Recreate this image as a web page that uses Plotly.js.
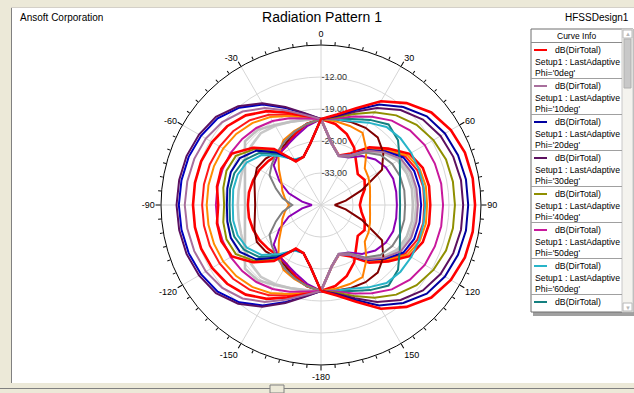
<!DOCTYPE html>
<html><head><meta charset="utf-8">
<script src="https://cdn.plot.ly/plotly-3.0.1.min.js"></script>
<style>html,body{margin:0;padding:0;background:#fff;overflow:hidden}#chart{width:634px;height:393px}</style>
</head><body><div id="chart"></div>
<script>
// ---- data ----
const theta = [-180,-170,-160,-150,-140,-130,-120,-110,-100,-90,-80,-70,-60,-50,-40,-30,-20,-10,0,10,20,30,40,50,60,70,80,90,100,110,120,130,140,150,160,170,180];
const phiNames = ["Phi='0deg'","Phi='10deg'","Phi='20deg'","Phi='30deg'","Phi='40deg'","Phi='50deg'","Phi='60deg'","Phi='70deg'","Phi='80deg'","Phi='90deg'","Phi='100deg'","Phi='110deg'","Phi='120deg'","Phi='130deg'","Phi='140deg'","Phi='150deg'","Phi='160deg'","Phi='170deg'","Phi='180deg'"];
const curveColors = ['#ff0000','#a86e9c','#0000a0','#5c1060','#8f8f00','#c8189c','#28b4c8','#148080','#808080','#ff8000','#800000','#c0c0c0','#8c00b4','#ff0000','#0000c0','#ff0000','#c8c8c8','#ff8c00','#ff1a1a'];
const quantity = 'dB(DirTotal)';
const solution = 'Setup1 : LastAdaptive';

const phi0   = [-21.2,-26.4,-28.8,-29.0,-24.0,-20.5,-17.5,-16.8,-16.9,-17.5,-16.9,-16.8,-17.5,-20.5,-24.0,-29.0,-28.8,-26.4,-21.2,-19.9,-17.5,-13.8,-10.9,-8.5,-7.2,-6.5,-6.3,-6.3,-6.3,-6.5,-7.2,-8.5,-10.9,-13.8,-17.5,-19.9,-21.2];
const phi10  = [-21.2,-20.0,-18.0,-15.5,-13.3,-11.8,-10.9,-10.5,-10.3,-10.2,-10.3,-10.5,-10.9,-11.8,-13.3,-15.5,-18.0,-20.0,-21.2,-26.4,-28.6,-27.5,-24.5,-22.0,-19.8,-19.0,-18.8,-18.8,-18.8,-19.0,-19.8,-22.0,-24.5,-27.5,-28.6,-26.4,-21.2];
const phi20  = [-21.2,-26.4,-28.8,-28.8,-25.0,-21.5,-19.5,-19.0,-19.2,-19.4,-19.2,-19.0,-19.5,-21.5,-25.0,-28.8,-28.8,-26.4,-21.2,-20.1,-17.9,-14.6,-12.0,-9.8,-8.7,-8.1,-7.8,-7.8,-7.8,-8.1,-8.7,-9.8,-12.0,-14.6,-17.9,-20.1,-21.2];
const phi30  = [-21.2,-19.6,-17.2,-14.3,-11.8,-10.0,-9.2,-8.7,-8.5,-8.4,-8.5,-8.7,-9.2,-10.0,-11.8,-14.3,-17.2,-19.6,-21.2,-20.3,-18.3,-15.5,-12.9,-10.9,-9.8,-9.2,-8.9,-8.9,-8.9,-9.2,-9.8,-10.9,-12.9,-15.5,-18.3,-20.3,-21.2];
const phi40  = [-21.2,-26.4,-28.8,-28.9,-24.5,-21.0,-18.5,-18.0,-18.3,-18.8,-18.3,-18.0,-18.5,-21.0,-24.5,-28.9,-28.8,-26.4,-21.2,-20.5,-18.8,-16.6,-14.4,-12.7,-11.6,-10.9,-10.7,-10.7,-10.7,-10.9,-11.6,-12.7,-14.4,-16.6,-18.8,-20.5,-21.2];
const phi50  = [-21.2,-20.8,-19.8,-18.8,-18.0,-17.5,-17.2,-17.1,-17.0,-17.0,-17.0,-17.1,-17.2,-17.5,-18.0,-18.8,-19.8,-20.8,-21.2,-20.8,-19.4,-17.7,-15.9,-14.6,-13.8,-13.5,-13.3,-13.3,-13.3,-13.5,-13.8,-14.6,-15.9,-17.7,-19.4,-20.8,-21.2];
const phi60  = [-21.2,-26.4,-28.8,-28.5,-26.0,-23.0,-21.3,-20.6,-20.5,-20.7,-20.5,-20.6,-21.3,-23.0,-26.0,-28.5,-28.8,-26.4,-21.2,-21.0,-20.5,-19.2,-17.7,-17.3,-17.2,-17.2,-17.2,-17.2,-17.2,-17.2,-17.2,-17.3,-17.7,-19.2,-20.5,-21.0,-21.2];
const phi70  = [-21.2,-26.4,-28.8,-28.6,-25.5,-22.3,-20.5,-19.8,-19.8,-20.0,-19.8,-19.8,-20.5,-22.3,-25.5,-28.6,-28.8,-26.4,-21.2,-20.9,-20.0,-18.5,-17.0,-18.0,-20.1,-21.6,-22.5,-22.7,-22.5,-21.6,-20.1,-18.0,-17.0,-18.5,-20.0,-20.9,-21.2];
const phi80  = [-21.2,-22.0,-23.0,-24.0,-25.0,-26.0,-27.0,-29.5,-31.5,-33.7,-31.5,-29.5,-27.0,-26.0,-25.0,-24.0,-23.0,-22.0,-21.2,-26.4,-28.6,-27.8,-25.0,-23.0,-22.0,-21.6,-21.5,-21.6,-21.5,-21.6,-22.0,-23.0,-25.0,-27.8,-28.6,-26.4,-21.2];
const phi90  = [-21.2,-22.0,-22.8,-23.6,-25.5,-28.0,-30.0,-31.0,-32.0,-33.0,-32.0,-31.0,-30.0,-28.0,-25.5,-23.6,-22.8,-22.0,-21.2,-21.4,-21.6,-21.8,-24.5,-27.5,-28.0,-28.6,-29.1,-29.3,-29.1,-28.6,-28.0,-27.5,-24.5,-21.8,-21.6,-21.4,-21.2];
const phi100 = [-21.2,-22.0,-23.0,-24.5,-25.0,-24.2,-23.8,-24.5,-25.3,-25.6,-25.3,-24.5,-23.8,-24.2,-25.0,-24.5,-23.0,-22.0,-21.2,-21.0,-20.7,-20.5,-20.7,-22.2,-24.6,-30.5,-34.5,-37.0,-34.5,-30.5,-24.6,-22.2,-20.7,-20.5,-20.7,-21.0,-21.2];
const phi110 = [-21.2,-21.1,-20.6,-19.8,-18.5,-18.3,-20.8,-22.3,-23.1,-23.4,-23.1,-22.3,-20.8,-18.3,-18.5,-19.8,-20.6,-21.1,-21.2,-26.4,-28.6,-27.6,-24.7,-22.3,-20.6,-20.0,-19.8,-19.9,-19.8,-20.0,-20.6,-22.3,-24.7,-27.6,-28.6,-26.4,-21.2];
const phi120 = [-21.2,-22.5,-24.0,-25.0,-25.5,-26.5,-29.5,-32.5,-35.8,-38.0,-35.8,-32.5,-29.5,-26.5,-25.5,-25.0,-24.0,-22.5,-21.2,-26.4,-28.6,-28.0,-26.0,-24.5,-23.6,-23.2,-23.3,-23.4,-23.3,-23.2,-23.6,-24.5,-26.0,-28.0,-28.6,-26.4,-21.2];
const phi130 = [-21.2,-22.0,-23.5,-25.0,-25.5,-25.0,-24.5,-24.2,-24.0,-24.0,-24.0,-24.2,-24.5,-25.0,-25.5,-25.0,-23.5,-22.0,-21.2,-22.0,-23.5,-25.5,-28.0,-29.5,-29.0,-29.8,-31.0,-31.5,-31.0,-29.8,-29.0,-29.5,-28.0,-25.5,-23.5,-22.0,-21.2];
const phi140 = [-21.2,-19.7,-17.4,-14.6,-12.2,-10.5,-9.7,-9.2,-9.0,-8.9,-9.0,-9.2,-9.7,-10.5,-12.2,-14.6,-17.4,-19.7,-21.2,-26.4,-28.6,-27.4,-24.3,-21.7,-19.2,-18.3,-18.1,-18.1,-18.1,-18.3,-19.2,-21.7,-24.3,-27.4,-28.6,-26.4,-21.2];
const phi150 = [-21.2,-20.2,-18.5,-16.3,-14.4,-13.2,-12.5,-12.1,-12.0,-12.0,-12.0,-12.1,-12.5,-13.2,-14.4,-16.3,-18.5,-20.2,-21.2,-26.4,-28.5,-27.0,-23.5,-20.8,-17.6,-16.3,-16.0,-16.1,-16.0,-16.3,-17.6,-20.8,-23.5,-27.0,-28.5,-26.4,-21.2];
const phi160 = [-21.2,-21.0,-20.6,-20.0,-19.5,-20.0,-20.8,-21.4,-21.7,-21.8,-21.7,-21.4,-20.8,-20.0,-19.5,-20.0,-20.6,-21.0,-21.2,-26.4,-28.6,-27.5,-24.6,-22.1,-20.2,-19.4,-19.2,-19.2,-19.2,-19.4,-20.2,-22.1,-24.6,-27.5,-28.6,-26.4,-21.2];
const phi170 = [-21.2,-20.6,-19.3,-17.8,-16.6,-15.8,-15.3,-15.1,-15.0,-15.0,-15.0,-15.1,-15.3,-15.8,-16.6,-17.8,-19.3,-20.6,-21.2,-26.4,-28.6,-27.2,-24.0,-21.2,-18.2,-17.0,-16.7,-16.8,-16.7,-17.0,-18.2,-21.2,-24.0,-27.2,-28.6,-26.4,-21.2];
const phi180 = [-21.2,-20.5,-19.0,-17.2,-15.8,-14.9,-14.4,-14.1,-14.0,-14.0,-14.0,-14.1,-14.4,-14.9,-15.8,-17.2,-19.0,-20.5,-21.2,-26.4,-28.6,-27.3,-24.1,-21.4,-18.7,-17.6,-17.3,-17.4,-17.3,-17.6,-18.7,-21.4,-24.1,-27.3,-28.6,-26.4,-21.2];
const series = [phi0,phi10,phi20,phi30,phi40,phi50,phi60,phi70,phi80,phi90,phi100,phi110,phi120,phi130,phi140,phi150,phi160,phi170,phi180];

const angTickVals = [0,30,60,90,120,150,180,210,240,270,300,330];
const angTickText = ['0','30','60','90','120','150','-180','-150','-120','-90','-60','-30'];
const radTickVals = [-33,-26,-19,-12];
const radTickText = ['-33.00','-26.00','-19.00','-12.00'];
const minorTickVals = [];
for (let a = 0; a < 360; a += 5) if (a % 30 !== 0) minorTickVals.push(a);

// ---- geometry helpers (pixels -> paper) ----
const W = 634, H = 393;
const px = x => x / W;
const py = y => 1 - y / H;
const FONT = 'Liberation Sans, Arial, sans-serif';

const polarDomain = {x: [px(161), px(481)], y: [py(365), py(45)]};

const traces = [];
// empty helper traces so the grid/label and tick subplots are drawn
traces.push({type: 'scatterpolar', subplot: 'polar', r: [], theta: [], mode: 'lines', showlegend: false, hoverinfo: 'skip'});
// draw from last to first so the Phi='0deg' curve ends on top
for (let i = series.length - 1; i >= 0; i--) {
  const thick = curveColors[i] === '#ff0000' || curveColors[i] === '#c0c0c0' || curveColors[i] === '#c8c8c8';
  traces.push({
    type: 'scatterpolar', subplot: 'polar2', r: series[i], theta: theta, mode: 'lines',
    name: quantity + ' ' + phiNames[i],
    line: {color: curveColors[i], width: thick ? 2.6 : 2},
    showlegend: false
  });
}
traces.push({type: 'scatterpolar', subplot: 'polar3', r: [], theta: [], mode: 'lines', showlegend: false, hoverinfo: 'skip'});

// ---- frame & legend shapes/annotations ----
const shapes = [];
const annotations = [];
const rect = (x0, y0, x1, y1, fill, line, lw) => shapes.push({type: 'rect', xref: 'paper', yref: 'paper', x0: px(x0), x1: px(x1), y0: py(y1), y1: py(y0), fillcolor: fill, line: {color: line || fill, width: lw === undefined ? 0 : lw}, layer: 'below'});
const hline = (x0, x1, y, color, w, layer) => shapes.push({type: 'line', xref: 'paper', yref: 'paper', x0: px(x0), x1: px(x1), y0: py(y), y1: py(y), line: {color: color, width: w}, layer: layer || 'above'});
const vline = (x, y0, y1, color, w) => shapes.push({type: 'line', xref: 'paper', yref: 'paper', x0: px(x), x1: px(x), y0: py(y0), y1: py(y1), line: {color: color, width: w}, layer: 'below'});
const text = (t, x, y, size, anchor, color) => annotations.push({text: t, xref: 'paper', yref: 'paper', x: px(x), y: py(y), xanchor: anchor, yanchor: 'middle', showarrow: false, font: {family: FONT, size: size, color: color || '#000'}});

// window frame
rect(0, 0, 634, 7, '#ece9d8');
rect(0, 0, 11, 393, '#ece9d8');
rect(0, 383, 634, 393, '#ece9d8');
vline(11.5, 7, 383, '#808080', 1);
hline(11, 634, 7.5, '#d4d0c8', 1, 'below');
hline(0, 634, 388.5, '#808080', 1, 'below');
rect(270, 385, 284, 393, '#ece9d8', '#808080', 1);

// titles
text('Ansoft Corporation', 18, 17, 10, 'left');
text('HFSSDesign1', 631, 17, 10, 'right');

// legend box (Curve Info)
const LX0 = 531, LX1 = 633, LY0 = 29, LY1 = 312, SBX = 622;
shapes.push({type: 'rect', xref: 'paper', yref: 'paper', x0: px(LX0 + 2), x1: px(634), y0: py(316), y1: py(312), fillcolor: '#a0a0a0', line: {width: 0}, layer: 'above'});
shapes.push({type: 'rect', xref: 'paper', yref: 'paper', x0: px(LX0), x1: px(LX1), y0: py(LY1), y1: py(LY0), fillcolor: '#ffffff', line: {color: '#6e6e6e', width: 1}, layer: 'above'});
// scrollbar
shapes.push({type: 'rect', xref: 'paper', yref: 'paper', x0: px(SBX), x1: px(LX1), y0: py(LY1), y1: py(LY0), fillcolor: '#f4f3ee', line: {color: '#c8c8c8', width: 1}, layer: 'above'});
shapes.push({type: 'rect', xref: 'paper', yref: 'paper', x0: px(SBX + 1), x1: px(LX1 - 1), y0: py(38), y1: py(LY0 + 1), fillcolor: '#ffffff', line: {color: '#b8b8b8', width: 1}, layer: 'above'});
shapes.push({type: 'rect', xref: 'paper', yref: 'paper', x0: px(SBX + 2), x1: px(LX1 - 2), y0: py(88), y1: py(39), fillcolor: '#c8c8c8', line: {color: '#b0b0b0', width: 1}, layer: 'above'});
shapes.push({type: 'rect', xref: 'paper', yref: 'paper', x0: px(SBX + 1), x1: px(LX1 - 1), y0: py(LY1 - 1), y1: py(303), fillcolor: '#ffffff', line: {color: '#b8b8b8', width: 1}, layer: 'above'});
text('\u25B2', 627.5, 33.5, 6, 'center', '#b8b8b8');
text('\u25BC', 627.5, 307.5, 6, 'center', '#b8b8b8');
// header
hline(LX0, SBX, 42.5, '#8c8c8c', 1);
text('Curve Info', (LX0 + SBX) / 2, 36, 8.5, 'center');
// entries
const entryH = 36;
for (let k = 0; k < 8; k++) {
  const y1 = 50 + entryH * k;
  shapes.push({type: 'line', xref: 'paper', yref: 'paper', x0: px(534), x1: px(547), y0: py(y1), y1: py(y1), line: {color: curveColors[k], width: 2}, layer: 'above'});
  text(quantity, 553, y1, 8.7, 'left');
  if (y1 + 23 < LY1) {
    text(solution, 533, y1 + 12, 8.7, 'left');
    text(phiNames[k], 533, y1 + 23, 8.7, 'left');
    hline(LX0, SBX, y1 + 28.5, '#a0a0a0', 1);
  }
}

const tickOnlyAngular = (vals, len) => ({
  rotation: 90, direction: 'clockwise', thetaunit: 'degrees',
  tickmode: 'array', tickvals: vals, showticklabels: false,
  ticks: 'outside', ticklen: len, tickwidth: 1, tickcolor: '#000',
  showline: false, showgrid: false
});
const hiddenRadial = {range: [-40, -5], visible: false, showgrid: false, showline: false, showticklabels: false, ticks: ''};

const layout = {
  width: W, height: H,
  margin: {l: 0, r: 0, t: 0, b: 0},
  paper_bgcolor: '#ffffff',
  showlegend: false,
  title: {text: 'Radiation Pattern 1', x: px(322), xanchor: 'center', y: py(17), yanchor: 'middle', font: {family: FONT, size: 14, color: '#000'}},
  font: {family: FONT, color: '#000'},
  polar: {
    domain: polarDomain,
    bgcolor: 'rgba(0,0,0,0)',
    angularaxis: {
      rotation: 90, direction: 'clockwise', thetaunit: 'degrees',
      tickmode: 'array', tickvals: angTickVals, ticktext: angTickText,
      ticks: 'outside', ticklen: 4, tickcolor: 'rgba(0,0,0,0)',
      showline: true, linecolor: '#000', linewidth: 1,
      showgrid: true, gridcolor: '#d6d6d6', gridwidth: 1,
      tickfont: {family: FONT, size: 9, color: '#000'}
    },
    radialaxis: {
      range: [-40, -5], angle: 90, side: 'clockwise', tickangle: 90,
      tickmode: 'array', tickvals: radTickVals, ticktext: radTickText,
      showline: false, ticks: '',
      showgrid: true, gridcolor: '#d6d6d6', gridwidth: 1,
      tickfont: {family: FONT, size: 9, color: '#333'}
    }
  },
  polar2: {domain: polarDomain, bgcolor: 'rgba(0,0,0,0)', angularaxis: tickOnlyAngular(minorTickVals, 3), radialaxis: hiddenRadial},
  polar3: {domain: polarDomain, bgcolor: 'rgba(0,0,0,0)', angularaxis: tickOnlyAngular(angTickVals, 5), radialaxis: hiddenRadial},
  shapes: shapes,
  annotations: annotations
};

Plotly.newPlot('chart', traces, layout, {staticPlot: true, displayModeBar: false});
</script>
</body></html>
